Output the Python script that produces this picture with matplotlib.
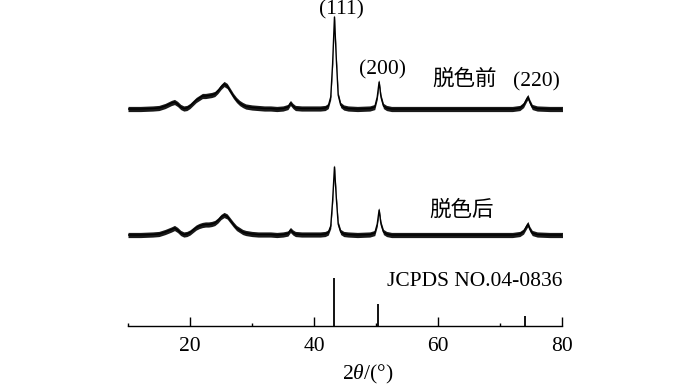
import matplotlib
matplotlib.use("Agg")
import matplotlib.pyplot as plt
from matplotlib.ticker import MultipleLocator

# ---- data (intensities in arbitrary units) ----
two_theta = [10, 12, 14, 15, 16, 17, 17.5, 18, 18.5, 19, 19.5, 20, 20.5, 21, 21.5, 22, 22.5,
             23, 23.5, 24, 24.5, 25, 25.5, 26, 26.5, 27, 27.5, 28, 28.5, 29, 30, 31, 32, 33,
             34, 35, 35.8, 36.2, 36.6, 37, 38, 40, 41, 41.8, 42.3, 42.7, 43.0, 43.3, 43.6,
             43.9, 44.3, 44.8, 45.5, 47, 49, 49.8, 50.2, 50.5, 50.8, 51.2, 51.7, 52.5, 56,
             60, 65, 70, 72, 73.2, 73.8, 74.3, 74.5, 74.8, 75.2, 76, 78, 80.3]

before = [0, 0, 0.5, 1, 3, 6, 7, 5, 2, 0.5, 1, 3, 6, 9, 11, 13, 13,
          13.5, 14, 15, 18, 22, 25, 23, 18, 13, 9, 6, 4, 2.5, 1.5, 1, 0.5, 0.5,
          0, 0.5, 2, 6, 3, 1, 0.5, 0.5, 0.5, 1, 3, 12, 45, 92, 50,
          14, 4, 1.5, 0.5, 0, 0.5, 2, 12, 27, 12, 3, 1, 0, 0,
          0, 0, 0, 0, 1, 4, 10, 12, 7, 2, 0.5, 0, 0]

after = [0, 0, 0.5, 1, 3, 5.5, 7, 5, 2, 0.5, 1, 2.5, 5, 7.5, 9, 10, 10.5,
         10.5, 11, 12, 14.5, 18, 20, 18.5, 14.5, 10.5, 7, 5, 3, 2, 1, 0.5, 0.5, 0.5,
         0, 0.5, 1.5, 5, 2.5, 1, 0.5, 0.5, 0.5, 1, 2.5, 9, 34, 68, 37,
         11, 3, 1, 0.5, 0, 0.5, 2, 11, 25, 11, 3, 1, 0, 0,
         0, 0, 0, 0, 1, 3.5, 9, 11, 6, 2, 0.5, 0, 0]

offset_before = 217
offset_after = 91

ref_pos = [43.3, 50.4, 74.1]
ref_int = [100, 46, 20]
ref_scale = 0.48

labels_hkl = ["(111)", "(200)", "(220)"]
label_pos = [(44.4, 316), (51.05, 256), (75.9, 244)]

xticks_major = [20, 40, 60, 80]

# ---- figure ----
fam = ["Liberation Serif", "Noto Sans CJK SC"]
plt.rcParams["font.family"] = fam
plt.rcParams["mathtext.fontset"] = "custom"
plt.rcParams["mathtext.rm"] = "Liberation Serif"
plt.rcParams["mathtext.it"] = "Liberation Serif:italic"
fs = 15.5

fig = plt.figure(figsize=(7, 3.85), dpi=100)
ax = fig.add_axes([128 / 700, 59 / 385, 434 / 700, 326 / 385])
ax.set_xlim(10, 80)
ax.set_ylim(0, 326)

band = 2.6
for data, off in ((before, offset_before), (after, offset_after)):
    yc = [v + off for v in data]
    ax.fill_between(two_theta, [v - band for v in yc], [v + band for v in yc],
                    color="#1a1a1a", lw=0)
    ax.plot(two_theta, yc, color="black", lw=1.0)

ax.vlines(ref_pos, 0, [v * ref_scale for v in ref_int], color="black", lw=1.3)

for t, (xx, yy) in zip(labels_hkl, label_pos):
    ax.text(xx, yy, t, ha="center", va="center", fontsize=fs, family=fam)

ax.text(64.3, 246, "脱色前", ha="center", va="center", fontsize=fs, family=fam)
ax.text(63.8, 115, "脱色后", ha="center", va="center", fontsize=fs, family=fam)
ax.text(65.9, 44, "JCPDS NO.04-0836", ha="center", va="center", fontsize=fs, family=fam)

for s in ("left", "right", "top"):
    ax.spines[s].set_visible(False)
ax.spines["bottom"].set_linewidth(1.0)
ax.set_yticks([])
ax.set_xticks(xticks_major)
ax.xaxis.set_minor_locator(MultipleLocator(10))
ax.tick_params(axis="x", which="major", direction="in", length=6.5, width=1.0,
               labelsize=fs, pad=8)
ax.tick_params(axis="x", which="minor", direction="in", length=2.2, width=1.0)
for lab in ax.get_xticklabels():
    lab.set_family(fam)

ax.text(48.7, -48, r"2$\mathit{\theta}$/(°)", ha="center", va="center", fontsize=fs,
        family=fam, clip_on=False)

fig.savefig("out.png", dpi=100)
